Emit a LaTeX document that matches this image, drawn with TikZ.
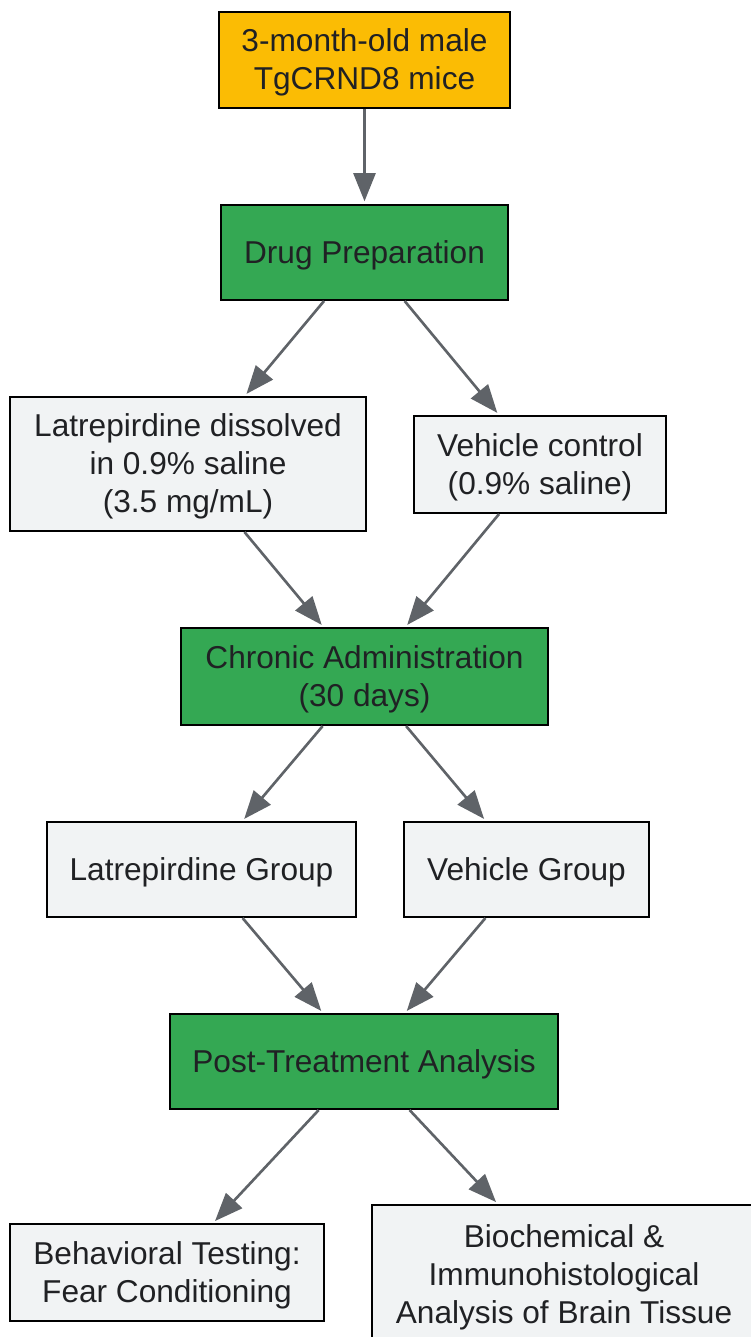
\documentclass[tikz,border=0pt]{standalone}
\usepackage{fontspec}
\setmainfont{Liberation Sans}
\usetikzlibrary{arrows.meta}

\definecolor{amber}{HTML}{FBBC04}
\definecolor{stagegreen}{HTML}{34A853}
\definecolor{paleg}{HTML}{F1F3F4}
\definecolor{arrowgray}{HTML}{5F6368}
\definecolor{txt}{HTML}{202124}

\tikzset{
	base/.style = {draw = black, line width = 1.2pt, text = txt, align = center, inner sep = 0pt,
		font = \fontsize{18}{21.6}\selectfont, text height = 17pt, text depth = 4.6pt},
	twolines/.style = {text height = 38.6pt},
	threelines/.style = {text height = 60.2pt},
	startbox/.style = {base, fill = amber},
	stagebox/.style = {base, fill = stagegreen},
	groupbox/.style = {base, fill = paleg},
	flow/.style = {draw = arrowgray, line width = 1.5pt, -{Triangle[length = 16pt, width = 12.5pt]}, shorten > = 1.5pt}
}

\begin{document}
\begin{tikzpicture}[x = 0.02cm, y = -0.02cm]
				%	canvas
				\useasboundingbox (0, 0) rectangle (750, 1337);
				
				%	boxes
				\node[startbox, twolines, minimum width = 5.82cm, minimum height = 1.92cm] (mice) at (364.5, 60) {3-month-old male\\TgCRND8 mice};
				\node[stagebox, minimum width = 5.74cm, minimum height = 1.9cm] (prep) at (364.5, 252.5) {Drug Preparation};
				\node[groupbox, threelines, minimum width = 7.12cm, minimum height = 2.68cm] (latsol) at (188, 464) {Latrepirdine dissolved\\in 0.9\% saline\\(3.5 mg/mL)};
				\node[groupbox, twolines, minimum width = 5.04cm, minimum height = 1.94cm] (vehctl) at (540, 464.5) {Vehicle control\\(0.9\% saline)};
				\node[stagebox, twolines, minimum width = 7.34cm, minimum height = 1.94cm] (chronic) at (364.5, 676.5) {Chronic Administration\\(30 days)};
				\node[groupbox, minimum width = 6.18cm, minimum height = 1.9cm] (latgrp) at (201.5, 869.5) {Latrepirdine Group};
				\node[groupbox, minimum width = 4.9cm, minimum height = 1.9cm] (vehgrp) at (526.5, 869.5) {Vehicle Group};
				\node[stagebox, minimum width = 7.76cm, minimum height = 1.9cm] (post) at (364, 1061.5) {Post-Treatment Analysis};
				\node[groupbox, twolines, minimum width = 6.28cm, minimum height = 1.94cm] (behav) at (167, 1272.5) {Behavioral Testing:\\Fear Conditioning};
				\node[groupbox, threelines, minimum width = 7.68cm, minimum height = 2.78cm] (biochem) at (564, 1274.5) {Biochemical \&\\Immunohistological\\Analysis of Brain Tissue};
				
				%	arrows
				\draw[flow] (mice) -- (prep);
				\draw[flow] (prep) -- (latsol);
				\draw[flow] (prep) -- (vehctl);
				\draw[flow] (latsol) -- (chronic);
				\draw[flow] (vehctl) -- (chronic);
				\draw[flow] (chronic) -- (latgrp);
				\draw[flow] (chronic) -- (vehgrp);
				\draw[flow] (latgrp) -- (post);
				\draw[flow] (vehgrp) -- (post);
				\draw[flow] (post) -- (behav);
				\draw[flow] (post) -- (biochem);
\end{tikzpicture}
\end{document}
